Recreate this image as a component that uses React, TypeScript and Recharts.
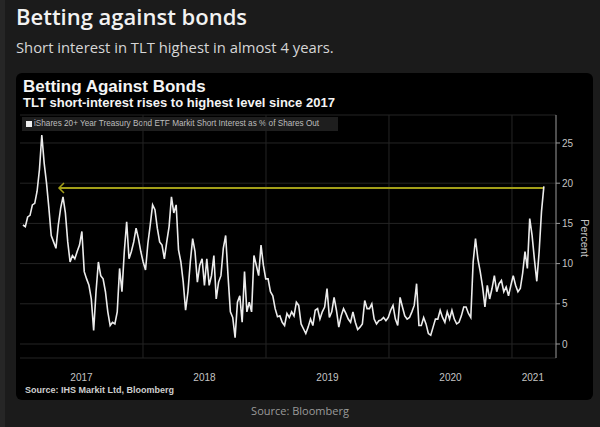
import { LineChart, Line, XAxis, YAxis, CartesianGrid, ReferenceLine, ReferenceDot } from "recharts"

// weekly short interest, % of shares out
const shortInterest = [
  14.8, 14.6, 15.8, 16.0, 17.3, 17.5, 19.0, 21.7, 26.0, 22.5,
  20.0, 16.9, 13.5, 12.7, 11.9, 14.8, 16.9, 18.3, 16.3, 12.7,
  10.2, 11.0, 10.6, 11.5, 12.3, 14.0, 9.0, 8.1, 7.3, 5.6,
  1.7, 6.5, 10.2, 8.5, 8.1, 6.5, 4.0, 2.3, 2.7, 2.5,
  4.0, 9.4, 6.5, 11.5, 15.2, 10.6, 11.5, 12.7, 14.4, 13.1,
  11.5, 10.2, 9.2, 12.5, 14.8, 17.3, 16.7, 14.4, 12.7, 12.3,
  10.6, 12.7, 14.6, 18.3, 16.3, 17.3, 11.7, 10.2, 7.7, 4.2,
  6.5, 10.2, 13.1, 11.5, 7.7, 9.8, 10.6, 7.3, 10.6, 7.3,
  8.5, 11.0, 5.6, 7.7, 8.5, 11.9, 13.5, 8.5, 4.0, 3.3,
  0.8, 5.2, 6.0, 2.7, 9.0, 4.0, 5.2, 4.0, 11.0, 9.8,
  8.5, 12.3, 9.8, 8.1, 8.1, 6.5, 6.0, 4.4, 3.4, 3.5,
  2.7, 2.3, 3.8, 3.3, 4.0, 3.5, 5.2, 4.8, 2.5, 1.9,
  1.3, 2.1, 3.1, 2.3, 4.2, 4.4, 3.1, 4.0, 4.6, 6.9,
  3.3, 4.0, 5.8, 4.2, 2.1, 3.5, 4.4, 3.8, 3.1, 2.7,
  4.0, 2.7, 1.8, 2.1, 2.5, 5.4, 4.4, 4.4, 5.0, 3.1,
  2.5, 2.9, 3.0, 3.3, 2.9, 3.3, 4.2, 4.8, 3.1, 2.3,
  5.8, 4.6, 3.5, 3.1, 3.3, 4.0, 4.8, 7.5, 2.3, 2.3,
  3.3, 2.5, 1.3, 1.1, 2.1, 3.1, 3.1, 4.2, 3.3, 2.7,
  4.0, 3.1, 4.2, 3.1, 2.5, 2.7, 3.5, 4.6, 4.6, 3.8,
  3.3, 10.2, 13.1, 10.6, 9.0, 7.1, 4.6, 7.3, 5.6, 6.9,
  8.5, 6.5, 7.5, 7.9, 6.5, 7.1, 6.0, 7.3, 8.5, 7.3,
  6.5, 6.9, 8.8, 11.5, 9.4, 15.6, 13.5, 10.5, 7.8, 11.5,
  16.5, 19.6,
]

const firstWeek = 2017.024
const weeksPerYear = 52.18

const yearTicks = [2017.5, 2018.5, 2019.5, 2020.5, 2021.17]
const yearBounds = [2018, 2019, 2020, 2021]
const percentTicks = [0, 5, 10, 15, 20, 25]

const levelValue = 19.4
const levelStart = 2017.317

const data = shortInterest.map((v, i) => ({ t: firstWeek + i / weeksPerYear, v }))
const lastT = data[data.length - 1].t

const bbg = "'Liberation Sans', Arial, sans-serif"
const yellow = "#a29e18"

const Arrow = (p: any) => (
  <path
    d={`M${p.cx + 5},${p.cy - 5} L${p.cx},${p.cy} L${p.cx + 5},${p.cy + 5}`}
    stroke={yellow}
    strokeWidth={1.5}
    fill="none"
  />
)

export default function App() {
  return (
    <div style={{ position: "fixed", left: 0, top: 0, width: 600, height: 427, background: "#1b1b1b", overflow: "hidden" }}>
      <div style={{ position: "absolute", left: 0, top: 0, width: 5, height: 427, background: "#262626" }} />
      <div style={{ position: "absolute", left: 16, top: 1, color: "#f2f2f2", fontFamily: "'Open Sans', sans-serif", fontWeight: 600, fontSize: 22 }}>
        Betting against bonds
      </div>
      <div style={{ position: "absolute", left: 16, top: 37, color: "#d6d6d6", fontFamily: "'Open Sans', sans-serif", fontSize: 14.8 }}>
        Short interest in TLT highest in almost 4 years.
      </div>

      <div style={{ position: "absolute", left: 16, top: 73, width: 577, height: 327, background: "#000", borderRadius: 6 }} />

      <div style={{ position: "absolute", left: 23, top: 78, lineHeight: "18px", color: "#f4f4f4", fontFamily: bbg, fontWeight: 700, fontSize: 17 }}>
        Betting Against Bonds
      </div>
      <div style={{ position: "absolute", left: 23, top: 96, lineHeight: "14px", color: "#f4f4f4", fontFamily: bbg, fontWeight: 700, fontSize: 13 }}>
        TLT short-interest rises to highest level since 2017
      </div>
      <div style={{ position: "absolute", left: 22, top: 117, width: 316, height: 14, background: "#1e1e1e" }} />
      <div style={{ position: "absolute", left: 26, top: 121, width: 6, height: 6, background: "#f0f0f0" }} />
      <div style={{ position: "absolute", left: 34, top: 118, lineHeight: "11px", color: "#bdbdbd", fontFamily: bbg, fontSize: 8.2, whiteSpace: "nowrap" }}>
        iShares 20+ Year Treasury Bond ETF Markit Short Interest as % of Shares Out
      </div>

      <div style={{ position: "absolute", left: 0, top: 0 }}>
        <LineChart width={600} height={427} data={data} margin={{ top: 115, right: 14, bottom: 49, left: 20 }}>
          <CartesianGrid vertical={false} stroke="#242424" />
          {yearBounds.map((y) => (
            <ReferenceLine key={y} x={y} stroke="#242424" />
          ))}
          <XAxis
            dataKey="t"
            type="number"
            domain={[2017, 2021.358]}
            ticks={yearTicks}
            tickFormatter={(v: number) => String(Math.floor(v))}
            axisLine={false}
            tickLine={false}
            tickSize={8}
            tickMargin={8}
            height={20}
            tick={{ fill: "#c4c4c4", fontSize: 10, fontFamily: bbg }}
            allowDataOverflow
          />
          <YAxis
            orientation="right"
            domain={[-1.74, 28.48]}
            ticks={percentTicks}
            width={30}
            axisLine={{ stroke: "#9a9a9a" }}
            tickLine={{ stroke: "#9a9a9a" }}
            tickSize={4}
            tickMargin={2}
            tick={{ fill: "#c4c4c4", fontSize: 10, fontFamily: bbg, textAnchor: "start" }}
            allowDataOverflow
          />
          <ReferenceLine
            segment={[{ x: levelStart, y: levelValue }, { x: lastT, y: levelValue }]}
            stroke={yellow}
            strokeWidth={2}
          />
          <ReferenceDot x={levelStart} y={levelValue} shape={Arrow} />
          <Line
            dataKey="v"
            type="linear"
            stroke="#ececec"
            strokeWidth={1.6}
            dot={false}
            isAnimationActive={false}
          />
        </LineChart>
      </div>

      <div style={{ position: "absolute", left: 563, top: 232, width: 44, textAlign: "center", transform: "rotate(90deg)", color: "#c4c4c4", fontFamily: bbg, fontSize: 11 }}>
        Percent
      </div>
      <div style={{ position: "absolute", left: 25, top: 385, color: "#cfcfcf", fontFamily: bbg, fontWeight: 700, fontSize: 9 }}>
        Source: IHS Markit Ltd, Bloomberg
      </div>
      <div style={{ position: "absolute", left: 0, top: 403, width: 600, textAlign: "center", color: "#9a9a9a", fontFamily: "'Open Sans', sans-serif", fontSize: 11 }}>
        Source: Bloomberg
      </div>
    </div>
  )
}
